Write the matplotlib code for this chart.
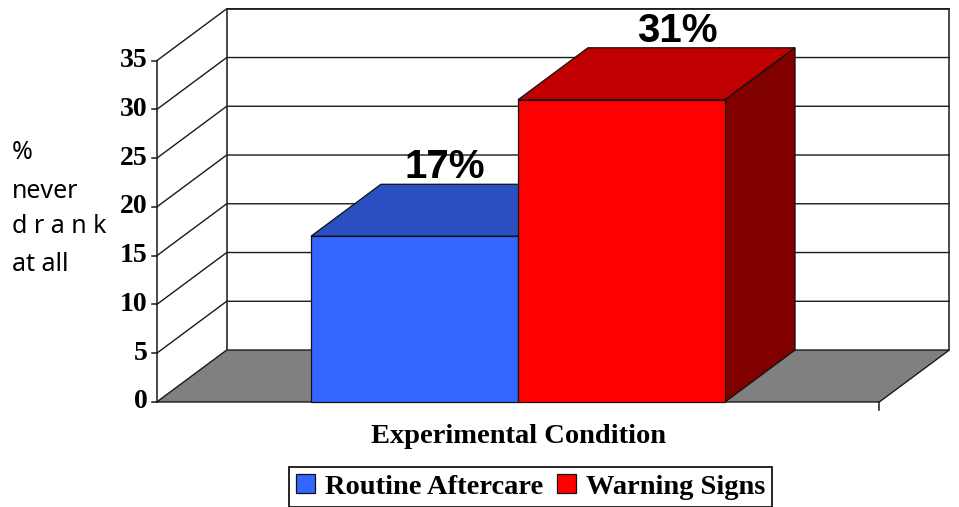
import matplotlib
matplotlib.use('Agg')
import matplotlib.pyplot as plt
from matplotlib.patches import Polygon

# data
groups = ['Routine Aftercare', 'Warning Signs']
pct_never_drank = [17, 31]
bar_labels = ['17%', '31%']
yticks = [0, 5, 10, 15, 20, 25, 30, 35]
xlabel = 'Experimental Condition'

front_colors = ['#3366ff', '#ff0000']
top_colors = ['#2a4fc0', '#c00000']
side_colors = ['#1f3c99', '#800000']

# fake 3d geometry (category units / value units)
ymax = 35
x_lo, x_hi = -1.245, 2.245
ddx, ddy = 0.338, 5.33
label_shift = [0.145, 0.268]

fig = plt.figure(figsize=(9.59, 5.07), dpi=100)
ax = fig.add_axes([0, 0, 1, 1])
ax.set_xlim(-2.002, 2.630)
ax.set_ylim(-10.77, 41.23)
ax.axis('off')

serif_bold = dict(family='Liberation Serif', weight='bold')

# back wall
ax.add_patch(Polygon([(x_lo + ddx, ddy), (x_hi + ddx, ddy), (x_hi + ddx, ymax + ddy),
                      (x_lo + ddx, ymax + ddy)], closed=True, fc='white', ec='none', zorder=1))
ax.plot([x_lo + ddx, x_lo + ddx, x_hi + ddx, x_hi + ddx],
        [ddy, ymax + ddy, ymax + ddy, ddy], color='#1a1a1a', lw=1.1, zorder=2)

# gridlines: diagonal on the side wall, horizontal on back wall
for t in yticks[1:]:
    ax.plot([x_lo, x_lo + ddx, x_hi + ddx], [t, t + ddy, t + ddy], color='#1a1a1a', lw=1.0, zorder=2)

# floor
ax.add_patch(Polygon([(x_lo, 0), (x_hi, 0), (x_hi + ddx, ddy), (x_lo + ddx, ddy)],
                     closed=True, fc='#808080', ec='#1a1a1a', lw=1.0, zorder=3))

# value axis
ax.plot([x_lo, x_lo], [0, ymax], color='#1a1a1a', lw=1.1, zorder=4)
for t in yticks:
    ax.plot([x_lo - 0.025, x_lo], [t, t], color='#1a1a1a', lw=1.1, zorder=4)
    ax.text(x_lo - 0.045, t, str(t), ha='right', va='center', fontsize=20, **serif_bold)
ax.plot([x_hi, x_hi], [0, -0.8], color='#1a1a1a', lw=1.1, zorder=4)

# bars: front faces through ax.bar, top and side faces from the same values
xpos = list(range(len(groups)))
handles = []
for i, (x, v) in enumerate(zip(xpos, pct_never_drank)):
    z = 5 + 2 * i
    left, right = x - 0.5, x + 0.5
    ax.add_patch(Polygon([(left, v), (right, v), (right + ddx, v + ddy), (left + ddx, v + ddy)],
                         closed=True, fc=top_colors[i], ec='#111111', lw=0.9, zorder=z))
    ax.add_patch(Polygon([(right, 0), (right + ddx, ddy), (right + ddx, v + ddy), (right, v)],
                         closed=True, fc=side_colors[i], ec='#111111', lw=0.9, zorder=z))
    b = ax.bar(x, v, width=1.0, color=front_colors[i], edgecolor='#111111', linewidth=0.9,
               zorder=z + 1, label=groups[i])
    handles.append(b)
    ax.text(x + label_shift[i], v + ddy + 0.6, bar_labels[i], ha='center', va='baseline',
            fontsize=29, family='Liberation Sans', weight='bold', zorder=10)

ax.text((x_lo + x_hi) / 2, -3.5, xlabel, ha='center', va='center', fontsize=20.5, **serif_bold)

# y label, one line per row as in the original slide
ylab_lines = ['%', 'never', 'd r a n k', 'at all']
ylab_base = [159, 198, 233, 271]
for line, yb in zip(ylab_lines, ylab_base):
    fig.text(12 / 959, 1 - yb / 507, line, ha='left', va='baseline', fontsize=18, family='Noto Sans')

leg = fig.legend(handles=handles, labels=groups, loc='upper left', bbox_to_anchor=(289 / 959, 1 - 467 / 507),
                 ncol=2, frameon=True, fancybox=False, edgecolor='black', framealpha=1,
                 prop=dict(family='Liberation Serif', weight='bold', size=20.5),
                 handlelength=0.65, handleheight=0.65, handletextpad=0.35, columnspacing=0.5,
                 borderpad=0.25, borderaxespad=0)
leg.get_frame().set_linewidth(1.2)

fig.savefig('out.png', dpi=100)
